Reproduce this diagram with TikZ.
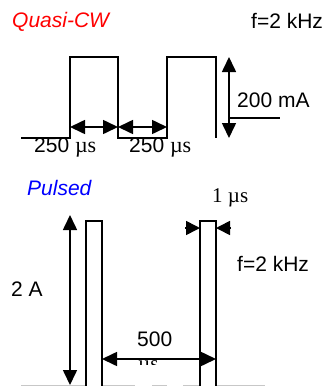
\documentclass[tikz,border=0pt]{standalone}
\usepackage{fontspec}
\setmainfont{Liberation Sans}
\newfontfamily\tms{Liberation Serif}
\usetikzlibrary{arrows.meta}
\begin{document}
\begin{tikzpicture}[x=1pt,y=-1pt,
  lbl/.style={inner sep=0pt,anchor=base west,font=\fontsize{21}{24}\selectfont},
  wave/.style={line width=1.4pt,line join=miter},
  dim/.style={line width=1.6pt,{Triangle[length=15pt,width=14pt]}-{Triangle[length=15pt,width=14pt]}},
  sdim/.style={line width=1.6pt,-{Triangle[length=14pt,width=14pt]}},
  gline/.style={line width=1.5pt,color=black!22}]
\useasboundingbox (0,0) rectangle (327,386);
% ---------- Quasi-CW ----------
\node[lbl,text=red] (qcw) at (12,27) {\itshape Quasi-CW};
\node[lbl] (f1) at (251,28) {f=2 kHz};
\draw[wave] (21,138) -- (70,138) -- (70,57) -- (118,57) -- (118,138) -- (167,138) -- (167,57) -- (216,57) -- (216,138);
\coordinate (a1) at (70,127);
\coordinate (a2) at (118,127);
\coordinate (a3) at (167,127);
\draw[dim] (a1) -- (a2);
\draw[dim] (a2) -- (a3);
\coordinate (v1) at (229,57);
\coordinate (v2) at (229,138);
\draw[dim] (v1) -- (v2);
\coordinate (h1) at (229,118);
\coordinate (h2) at (280,118);
\draw[line width=1.4pt] (h1) -- (h2);
\node[lbl] (ma) at (237,107) {200 mA};
\node[lbl] (t1) at (34,152) {250 {\tms\fontsize{22}{24}\selectfont µs}};
\node[lbl] (t2) at (129,152) {250 {\tms\fontsize{22}{24}\selectfont µs}};
% ---------- Pulsed ----------
\node[lbl,text=blue] (pul) at (27,195) {\itshape Pulsed};
\node[lbl] (us1) at (212,202) {\tms 1 µs};
\node[lbl] (f2) at (237,271) {f=2 kHz};
\node[lbl] (amp) at (11,296) {2 A};
\node[lbl] (fh) at (137,346) {500};
\begin{scope}
\clip (120,340) rectangle (180,364);
\node[lbl] (us2) at (138,370) {\tms µs};
\end{scope}
\draw[wave,line width=1.7pt] (86,386) -- (86,221) -- (102,221) -- (102,386);
\draw[wave,line width=1.7pt] (200,386) -- (200,221) -- (216,221) -- (216,386);
\coordinate (p1) at (185,228);
\coordinate (p2) at (200,228);
\coordinate (p3) at (231,228);
\coordinate (p4) at (216,228);
\draw[sdim] (p1) -- (p2);
\draw[sdim] (p3) -- (p4);
\coordinate (b1) at (70,215);
\coordinate (b2) at (70,385);
\draw[dim] (b1) -- (b2);
\coordinate (c1) at (102,359);
\coordinate (c2) at (216,359);
\draw[dim] (c1) -- (c2);
\draw[gline] (21,385.5) -- (85,385.5);
\draw[gline] (103,385.5) -- (135,385.5);
\draw[gline] (152,385.5) -- (167,385.5);
\draw[gline] (183,385.5) -- (199,385.5);
\draw[gline] (217,385.5) -- (265,385.5);
\end{tikzpicture}
\end{document}
